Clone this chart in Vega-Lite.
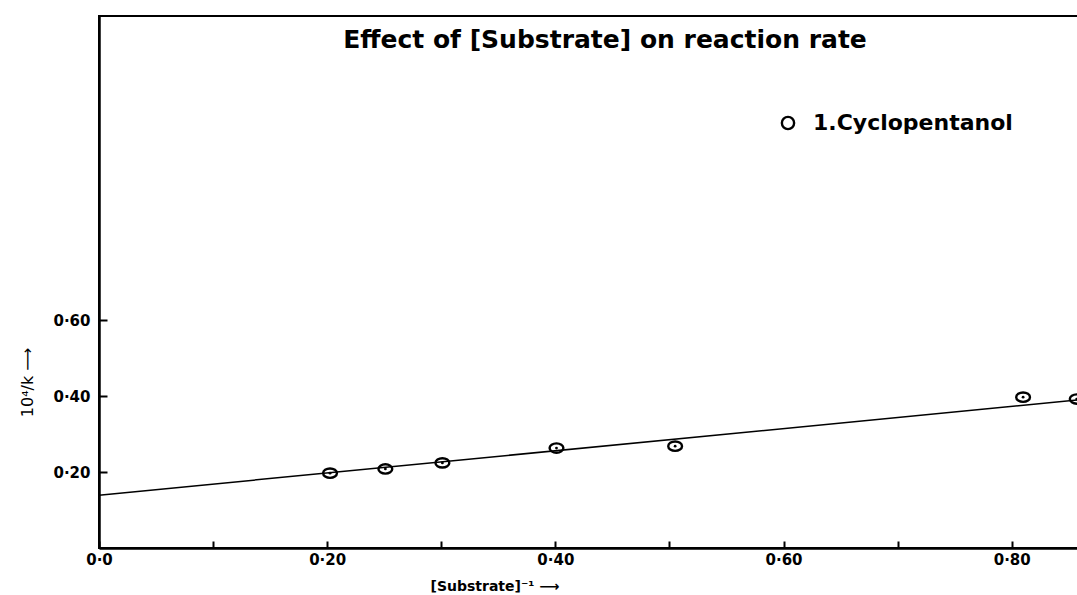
{
  "$schema": "https://vega.github.io/schema/vega-lite/v6.json",
  "width": 980,
  "height": 532,
  "autosize": {"type": "none"},
  "padding": {"left": 99, "top": 16, "right": 0, "bottom": 47},
  "background": "white",
  "title": {
    "text": "Effect of [Substrate] on reaction rate",
    "font": "DejaVu Sans",
    "fontSize": 25,
    "fontWeight": "bold",
    "color": "black",
    "anchor": "middle",
    "orient": "top",
    "offset": -37,
    "dx": 16
  },
  "config": {
    "view": {"stroke": "black", "strokeWidth": 2},
    "axis": {"grid": false, "domainColor": "black", "domainWidth": 2.5, "tickColor": "black", "tickWidth": 2}
  },
  "datasets": {
    "pts": [
      {"x": 0.2025, "y": 0.197, "series": "1.Cyclopentanol"},
      {"x": 0.251, "y": 0.208, "series": "1.Cyclopentanol"},
      {"x": 0.301, "y": 0.224, "series": "1.Cyclopentanol"},
      {"x": 0.401, "y": 0.263, "series": "1.Cyclopentanol"},
      {"x": 0.505, "y": 0.268, "series": "1.Cyclopentanol"},
      {"x": 0.81, "y": 0.397, "series": "1.Cyclopentanol"},
      {"x": 0.857, "y": 0.392, "series": "1.Cyclopentanol"}
    ],
    "fit": [
      {"x": 0.0, "y": 0.139},
      {"x": 0.859, "y": 0.39}
    ]
  },
  "layer": [
    {
      "data": {"name": "fit"},
      "mark": {"type": "line", "color": "black", "strokeWidth": 1.5},
      "encoding": {
        "x": {
          "field": "x", "type": "quantitative",
          "scale": {"domain": [0, 0.859], "nice": false, "zero": true},
          "axis": {
            "values": [0, 0.1, 0.2, 0.3, 0.4, 0.5, 0.6, 0.7, 0.8],
            "labelExpr": "indexof([0,0.2,0.4,0.6,0.8], round(datum.value*10)/10) >= 0 ? (datum.value == 0 ? '0·0' : replace(format(datum.value, '.2f'), '.', '·')) : ''",
            "tickSize": -7,
            "labelPadding": 11,
            "labelFont": "DejaVu Sans",
            "labelFontWeight": "bold",
            "labelFontSize": 15,
            "labelColor": "black",
            "labelFlush": false,
            "labelOverlap": false,
            "title": "[Substrate]⁻¹    ⟶",
            "titleFont": "DejaVu Sans",
            "titleFontSize": 14,
            "titleFontWeight": "bold",
            "titleColor": "black",
            "titleAnchor": "start",
            "titleAlign": "left",
            "titleBaseline": "alphabetic",
            "titleX": 331,
            "titleY": 42
          }
        },
        "y": {
          "field": "y", "type": "quantitative",
          "scale": {"domain": [0, 1.4], "nice": false},
          "axis": {
            "values": [0.2, 0.4, 0.6],
            "labelExpr": "replace(format(datum.value, '.2f'), '.', '·')",
            "tickSize": -8,
            "labelPadding": 17,
            "labelFont": "DejaVu Sans",
            "labelFontWeight": "bold",
            "labelFontSize": 15,
            "labelColor": "black",
            "title": "10⁴/k ⟶",
            "titleFont": "DejaVu Sans",
            "titleFontSize": 16,
            "titleFontWeight": "normal",
            "titleColor": "black",
            "titleX": -64,
            "titleY": 366
          }
        }
      }
    },
    {
      "data": {"name": "pts"},
      "mark": {"type": "point", "shape": "M -1,0 A 1,0.68 0 1,0 1,0 A 1,0.68 0 1,0 -1,0 Z", "filled": false, "strokeWidth": 2.4, "size": 190, "opacity": 1},
      "encoding": {
        "x": {"field": "x", "type": "quantitative"},
        "y": {"field": "y", "type": "quantitative"},
        "color": {
          "field": "series", "type": "nominal",
          "scale": {"range": ["black"]},
          "legend": {
            "title": null,
            "orient": "none",
            "legendX": 678,
            "legendY": 96,
            "labelFont": "DejaVu Sans",
            "labelFontSize": 22,
            "labelFontWeight": "bold",
            "labelColor": "black",
            "labelLimit": 400,
            "symbolSize": 150,
            "symbolStrokeWidth": 2.4,
            "symbolType": "circle",
            "labelOffset": 14
          }
        }
      }
    },
    {
      "data": {"name": "pts"},
      "mark": {"type": "point", "shape": "circle", "filled": true, "size": 8, "color": "black", "opacity": 1},
      "encoding": {
        "x": {"field": "x", "type": "quantitative"},
        "y": {"field": "y", "type": "quantitative"}
      }
    }
  ]
}
